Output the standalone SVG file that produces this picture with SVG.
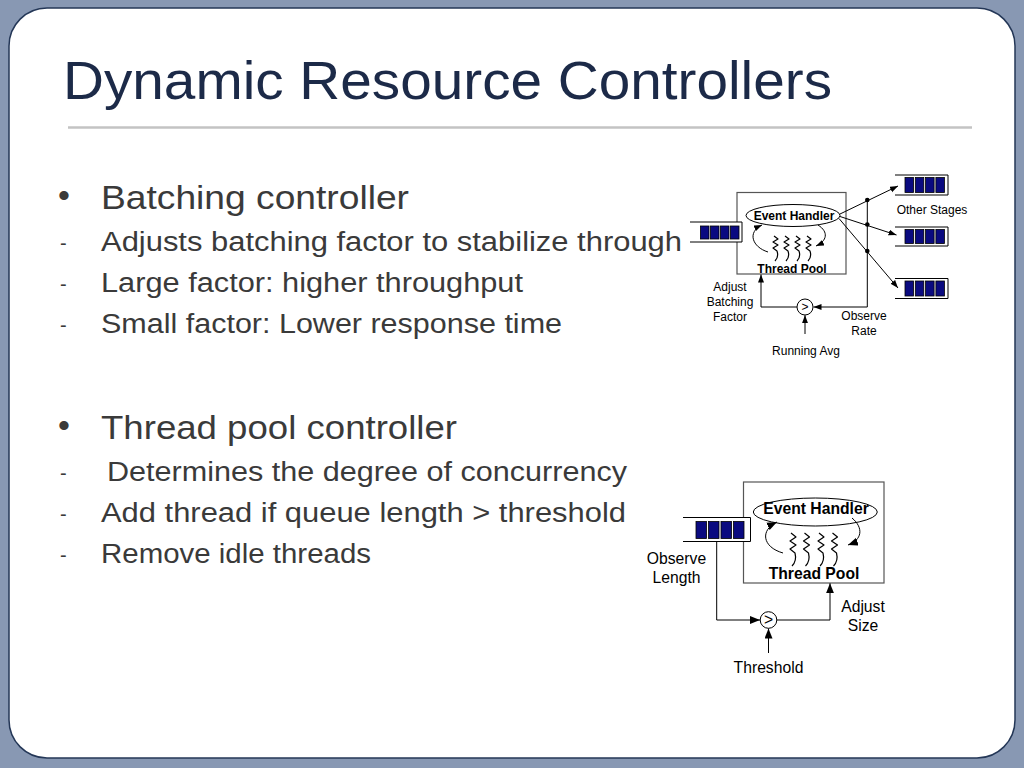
<svg xmlns="http://www.w3.org/2000/svg" width="1024" height="768" viewBox="0 0 1024 768">
<defs>
<style>
.title{font-family:"Liberation Sans",Arial,sans-serif;font-size:53px;fill:#1c2a48}
.h1{font-family:"Liberation Sans",Arial,sans-serif;font-size:34px;fill:#3a3a3a}
.h2{font-family:"Liberation Sans",Arial,sans-serif;font-size:27px;fill:#3a3a3a}
.dash{font-family:"Liberation Sans",Arial,sans-serif;font-size:20px;fill:#3a3a3a}
.d1{font-family:"Liberation Sans",Arial,sans-serif;font-size:12px;fill:#000;text-anchor:middle}
.d1b{font-family:"Liberation Sans",Arial,sans-serif;font-size:12px;font-weight:bold;fill:#000;text-anchor:middle}
.d2{font-family:"Liberation Sans",Arial,sans-serif;font-size:15.7px;fill:#000;text-anchor:middle}
.d2b{font-family:"Liberation Sans",Arial,sans-serif;font-size:15.7px;font-weight:bold;fill:#000;text-anchor:middle}
.ln{fill:none;stroke:#000;stroke-width:1}
.box{fill:none;stroke:#555;stroke-width:1.2}
.q{fill:#fff;stroke:#000;stroke-width:1}
.cell{fill:#0a0a80;stroke:#000;stroke-width:0.8}
.thr{fill:none;stroke:#000;stroke-width:1.2;stroke-linejoin:round}
</style>
<marker id="ah" markerWidth="9" markerHeight="7" refX="8" refY="3" orient="auto" markerUnits="userSpaceOnUse"><path d="M0,0 L8,3 L0,6 z" fill="#000"/></marker>
<marker id="ah2" markerWidth="11" markerHeight="9" refX="10" refY="4" orient="auto" markerUnits="userSpaceOnUse"><path d="M0,0 L10,4 L0,8 z" fill="#000"/></marker>
</defs>

<rect x="0" y="0" width="1024" height="768" fill="#8898b3"/>
<rect x="9" y="8" width="1006" height="750" rx="38" ry="38" fill="#ffffff" stroke="#243757" stroke-width="1.5"/>

<g id="title">
<text class="title" x="63" y="99" textLength="769" lengthAdjust="spacingAndGlyphs">Dynamic Resource Controllers</text>
<line x1="68" y1="127.5" x2="972" y2="127.5" stroke="#c3c3c3" stroke-width="2.5"/>
</g>

<g id="bullets">
<text class="h1" x="58" y="207">•</text>
<text class="h1" x="101" y="209" textLength="308" lengthAdjust="spacingAndGlyphs">Batching controller</text>
<text class="dash" x="60" y="250">-</text>
<text class="h2" x="101" y="251" textLength="581" lengthAdjust="spacingAndGlyphs">Adjusts batching factor to stabilize through</text>
<text class="dash" x="60" y="291">-</text>
<text class="h2" x="101" y="292" textLength="422" lengthAdjust="spacingAndGlyphs">Large factor: higher throughput</text>
<text class="dash" x="60" y="332">-</text>
<text class="h2" x="101" y="333" textLength="461" lengthAdjust="spacingAndGlyphs">Small factor: Lower response time</text>

<text class="h1" x="58" y="437">•</text>
<text class="h1" x="101" y="439" textLength="356" lengthAdjust="spacingAndGlyphs">Thread pool controller</text>
<text class="dash" x="60" y="480">-</text>
<text class="h2" x="107" y="481" textLength="520" lengthAdjust="spacingAndGlyphs">Determines the degree of concurrency</text>
<text class="dash" x="60" y="521">-</text>
<text class="h2" x="101" y="522" textLength="525" lengthAdjust="spacingAndGlyphs">Add thread if queue length &gt; threshold</text>
<text class="dash" x="60" y="562">-</text>
<text class="h2" x="101" y="563" textLength="270" lengthAdjust="spacingAndGlyphs">Remove idle threads</text>
</g>

<!-- Upper diagram: batching controller -->
<g id="stage1">
<rect class="box" x="737" y="192.5" width="109" height="81.5"/>
<ellipse class="ln" cx="793" cy="215.5" rx="47" ry="11"/>
<text class="d1b" x="794" y="219.5">Event Handler</text>
<g class="thr">
<path d="M774,236 l4,3 l-5,3 l5,3 l-5,3 l4,3 q2,6 -2,10"/>
<path d="M785,236 l4,3 l-5,3 l5,3 l-5,3 l4,3 q2,6 -2,10"/>
<path d="M796,236 l4,3 l-5,3 l5,3 l-5,3 l4,3 q2,6 -2,10"/>
<path d="M807,236 l4,3 l-5,3 l5,3 l-5,3 l4,3 q2,6 -2,10"/>
</g>
<text class="d1b" x="792" y="272.5">Thread Pool</text>
<path class="ln" d="M768,252 C752,247 747,232 762,225" marker-end="url(#ah)"/>
<path class="ln" d="M818,225 C829,232 827,241 816,246" marker-end="url(#ah)"/>
</g>
<g id="queue-in1">
<path class="q" d="M690,222 H742 V242 H690"/>
<rect class="cell" x="700.5" y="226" width="8.5" height="13"/>
<rect class="cell" x="710.5" y="226" width="8.5" height="13"/>
<rect class="cell" x="720.5" y="226" width="8.5" height="13"/>
<rect class="cell" x="730.5" y="226" width="8.5" height="13"/>
</g>
<g id="queue-out1">
<path class="q" d="M895,175 H948 V195 H895"/>
<rect class="cell" x="905" y="177.5" width="8.5" height="15"/>
<rect class="cell" x="915.3" y="177.5" width="8.5" height="15"/>
<rect class="cell" x="925.6" y="177.5" width="8.5" height="15"/>
<rect class="cell" x="935.9" y="177.5" width="8.5" height="15"/>
</g>
<g id="queue-out2">
<path class="q" d="M895,227 H948 V246 H895"/>
<rect class="cell" x="905" y="229.5" width="8.5" height="14"/>
<rect class="cell" x="915.3" y="229.5" width="8.5" height="14"/>
<rect class="cell" x="925.6" y="229.5" width="8.5" height="14"/>
<rect class="cell" x="935.9" y="229.5" width="8.5" height="14"/>
</g>
<g id="queue-out3">
<path class="q" d="M895,278.5 H948 V298.5 H895"/>
<rect class="cell" x="905" y="281" width="8.5" height="15"/>
<rect class="cell" x="915.3" y="281" width="8.5" height="15"/>
<rect class="cell" x="925.6" y="281" width="8.5" height="15"/>
<rect class="cell" x="935.9" y="281" width="8.5" height="15"/>
</g>
<g id="cmp1">
<circle class="ln" cx="805" cy="307" r="8" fill="#fff"/>
<text class="d1" x="805" y="311">&gt;</text>
</g>
<g id="labels1">
<text class="d1" x="932" y="214">Other Stages</text>
<text class="d1" x="730" y="290.5">Adjust</text>
<text class="d1" x="730" y="305.5">Batching</text>
<text class="d1" x="730" y="320.5">Factor</text>
<text class="d1" x="864" y="320">Observe</text>
<text class="d1" x="864" y="335">Rate</text>
<text class="d1" x="806" y="354.5">Running Avg</text>
</g>

<!-- Lower diagram: thread pool controller -->
<g id="stage2">
<rect class="box" x="743.5" y="482" width="140.5" height="101"/>
<ellipse class="ln" cx="815.3" cy="512" rx="62" ry="14"/>
<text class="d2b" x="816" y="514">Event Handler</text>
<g class="thr">
<path d="M791,533 l5,4 l-6,4 l6,4 l-6,4 l5,4 q2,8 -3,13"/>
<path d="M804.5,533 l5,4 l-6,4 l6,4 l-6,4 l5,4 q2,8 -3,13"/>
<path d="M819,533 l5,4 l-6,4 l6,4 l-6,4 l5,4 q2,8 -3,13"/>
<path d="M832.5,533 l5,4 l-6,4 l6,4 l-6,4 l5,4 q2,8 -3,13"/>
</g>
<text class="d2b" x="814" y="579">Thread Pool</text>
<path class="ln" d="M783,553 C762,547 760,530 777,522" marker-end="url(#ah2)"/>
<path class="ln" d="M852,518 C864,528 862,540 848,545" marker-end="url(#ah2)"/>
</g>
<g id="queue-in2">
<path class="q" d="M683,517.5 H750.5 V541.5 H683"/>
<rect class="cell" x="696" y="521.5" width="10.5" height="17"/>
<rect class="cell" x="708.5" y="521.5" width="10.5" height="17"/>
<rect class="cell" x="721" y="521.5" width="10.5" height="17"/>
<rect class="cell" x="733.5" y="521.5" width="10.5" height="17"/>
</g>
<g id="cmp2">
<circle class="ln" cx="768.5" cy="620" r="8.3" fill="#fff"/>
<text class="d2" x="768.5" y="625">&gt;</text>
</g>
<g id="labels2">
<text class="d2" x="676.5" y="564">Observe</text>
<text class="d2" x="676.5" y="583">Length</text>
<text class="d2" x="863" y="612">Adjust</text>
<text class="d2" x="863" y="631">Size</text>
<text class="d2" x="768.5" y="673">Threshold</text>
</g>

<g id="connectors">
<path class="ln" d="M840,214 L898,186" marker-end="url(#ah)"/>
<path class="ln" d="M840,216.5 L896.5,235" marker-end="url(#ah)"/>
<path class="ln" d="M839,218.5 L898,288" marker-end="url(#ah)"/>
<circle cx="867.3" cy="200" r="2.3" fill="#000"/>
<circle cx="867.3" cy="224.5" r="2.3" fill="#000"/>
<circle cx="867.3" cy="251" r="2.3" fill="#000"/>
<path class="ln" d="M867.3,200 V307 H813.5" marker-end="url(#ah)"/>
<path class="ln" d="M797,307 H761 V274.5" marker-end="url(#ah)"/>
<path class="ln" d="M805,334 V315.2" marker-end="url(#ah)"/>

<path class="ln" d="M716.7,541.5 V620 H760" marker-end="url(#ah2)"/>
<path class="ln" d="M776.8,620 H830 V583.3" marker-end="url(#ah2)"/>
<path class="ln" d="M768.5,653 V628.5" marker-end="url(#ah2)"/>
</g>
</svg>
